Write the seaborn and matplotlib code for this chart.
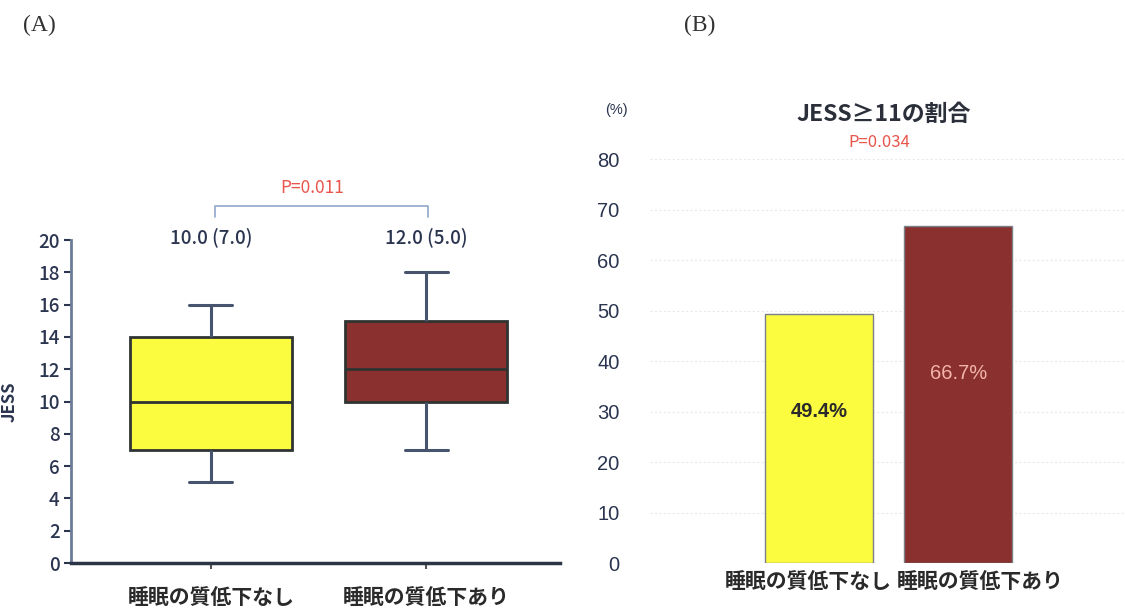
import pandas as pd
import seaborn as sns
import matplotlib.pyplot as plt

sns.set_theme(style="white")
plt.rcParams['font.family'] = ['Noto Sans CJK JP', 'DejaVu Sans']

# data
groups = ["睡眠の質低下なし", "睡眠の質低下あり"]
# five-number summaries of JESS (min, Q1, median, Q3, max)
jess_none = [5, 7, 10, 14, 16]
jess_low = [7, 10, 12, 15, 18]
box_labels = ["10.0 (7.0)", "12.0 (5.0)"]
p_box = "P=0.011"
ratio = [49.4, 66.7]
ratio_labels = ["49.4%", "66.7%"]
p_bar = "P=0.034"
colors = ["#fbfb3f", "#8a302e"]

navy = "#2b3550"

df_box = pd.DataFrame({
    "group": [groups[0]] * len(jess_none) + [groups[1]] * len(jess_low),
    "JESS": jess_none + jess_low,
})
df_bar = pd.DataFrame({"group": groups, "ratio": ratio})

fig = plt.figure(figsize=(11.25, 6.1), dpi=100)

# ---- (A) box plot
ax1 = fig.add_axes([0.063, 0.077, 0.435, 0.5295])
sns.boxplot(data=df_box, x="group", y="JESS", hue="group", palette=colors,
            legend=False, width=0.75, linecolor="#2f3432", linewidth=2,
            saturation=1, whis=1.5, ax=ax1,
            whiskerprops={"color": "#48536e", "linewidth": 2.2},
            capprops={"color": "#48536e", "linewidth": 2.2},
            capwidths=0.2)
ax1.set_xlim(-0.651, 1.623)
ax1.set_ylim(0, 20)
ax1.set_yticks(range(0, 21, 2))
ax1.set_xlabel("")
ax1.set_ylabel("JESS", fontsize=12, fontweight="bold", color=navy, labelpad=14)
ax1.set_xticks([0, 1])
ax1.set_xticklabels([])
for i, g in enumerate(groups):
    ax1.text(i, -1.5, g, ha="center", va="top", fontsize=15,
             fontweight="bold", color="#2a2a2a")
ax1.tick_params(axis="y", labelsize=13.5, colors=navy, length=5, width=1.5,
                direction="out", left=True, pad=3)
ax1.tick_params(axis="x", length=4, width=1.5, bottom=True, direction="out",
                colors="#555555")
for lab in ax1.get_yticklabels():
    lab.set_color(navy)
    lab.set_fontweight("medium")
ax1.spines["top"].set_visible(False)
ax1.spines["right"].set_visible(False)
ax1.spines["left"].set_color("#6c7b98")
ax1.spines["left"].set_linewidth(2)
ax1.spines["bottom"].set_color("#2c3448")
ax1.spines["bottom"].set_linewidth(2.5)

for i, lab in enumerate(box_labels):
    ax1.text(i, 20.2, lab, ha="center", va="center", fontsize=13.5,
             color=navy, fontweight="medium", clip_on=False)
bracket_y = [21.4, 22.1, 22.1, 21.4]
ax1.plot([0.02, 0.02, 1.01, 1.01], bracket_y, color="#9aaed0",
         linewidth=1.3, clip_on=False)
ax1.text(0.47, 23.2, p_box, ha="center", va="center", fontsize=12.5,
         color="#e8554c", clip_on=False)

# ---- (B) bar plot
ax2 = fig.add_axes([0.578, 0.077, 0.422, 0.6623])
sns.barplot(data=df_bar, x="group", y="ratio", hue="group", palette=colors,
            legend=False, width=0.78, edgecolor="#7a7f88", linewidth=1,
            saturation=1, ax=ax2)
ax2.set_xlim(-1.216, 2.2)
ax2.set_ylim(0, 80)
ax2.set_yticks(range(0, 81, 10))
ax2.set_xlabel("")
ax2.set_ylabel("")
ax2.set_xticks([0, 1])
ax2.set_xticklabels([])
ax2.tick_params(axis="x", length=0)
ax2.tick_params(axis="y", length=0, labelsize=14.5, colors=navy, pad=22)
for lab in ax2.get_yticklabels():
    lab.set_family(['Liberation Sans', 'DejaVu Sans'])
ax2.grid(axis="y", color="#e6ebe6", linestyle=(0, (2, 2)), linewidth=0.8)
ax2.set_axisbelow(True)
for s in ax2.spines.values():
    s.set_visible(False)

label_x = [-0.08, 1.16]
for x, g in zip(label_x, groups):
    ax2.text(x, -1.5, g, ha="center", va="top", fontsize=15,
             fontweight="bold", color="#2a2a2a")
ax2.text(0, 30, ratio_labels[0], ha="center", va="center", fontsize=14.5,
         fontweight="bold", color="#2a2a2a", family=['Liberation Sans', 'DejaVu Sans'])
ax2.text(1, 37.5, ratio_labels[1], ha="center", va="center", fontsize=14.5,
         color="#f2b4aa", family=['Liberation Sans', 'DejaVu Sans'])

ax2.text(0.46, 88.8, "JESS≥11の割合", ha="center", va="center", fontsize=16.5,
         fontweight="bold", color="#2a2f3a", clip_on=False)
ax2.text(0.43, 83.2, p_bar, ha="center", va="center", fontsize=12,
         color="#e8554c", clip_on=False)
ax2.text(-1.46, 89.8, "(%)", ha="center", va="center", fontsize=10.5,
         color=navy, clip_on=False, family=['Liberation Sans', 'DejaVu Sans'])

# panel letters
fig.text(0.035, 0.958, "(A)", ha="center", va="center", fontsize=17,
         family=['Liberation Serif', 'DejaVu Serif'], color="#333333")
fig.text(0.622, 0.958, "(B)", ha="center", va="center", fontsize=17,
         family=['Liberation Serif', 'DejaVu Serif'], color="#333333")

fig.savefig("out.png", dpi=100)
